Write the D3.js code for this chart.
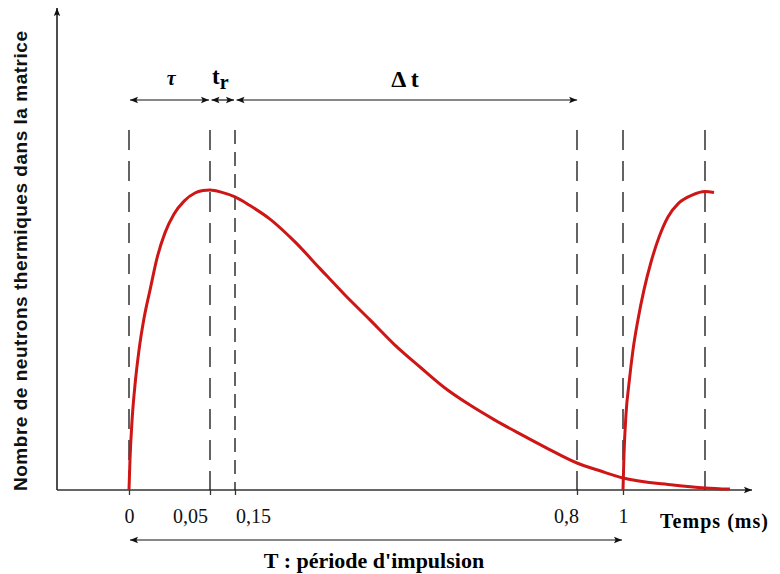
<!DOCTYPE html>
<html>
<head>
<meta charset="utf-8">
<script src="https://cdn.jsdelivr.net/npm/d3@7"></script>
<style>
  body { margin: 0; background: #fff; }
  svg { display: block; }
</style>
</head>
<body>
<svg id="chart" width="780" height="574"></svg>
<script>
// times (ms) where the dashed guides stand
const markTimes = [0, 0.05, 0.15, 0.8, 1, 1.05];
const tickTimes = [0, 0.05, 0.15, 0.8, 1];
const tickLabels = ["0", "0,05", "0,15", "0,8", "1"];

// first pulse: build-up then decay (relative neutron count, peak = 100)
const pulse1 = [
  [0, 0], [0.0006, 10], [0.0019, 23.3], [0.0037, 35], [0.0062, 46.7],
  [0.0093, 57.3], [0.013, 66.7], [0.0173, 77.3], [0.0222, 85.7], [0.0278, 92],
  [0.034, 96.3], [0.0407, 99], [0.0457, 99.8], [0.05, 100], [0.098, 99.2],
  [0.15, 97.7], [0.1785, 94.8], [0.2165, 90.3], [0.264, 82.7], [0.3116, 73.8],
  [0.359, 65], [0.4066, 56.7], [0.454, 48.3], [0.5016, 41], [0.549, 34],
  [0.5966, 28.3], [0.644, 23.3], [0.6917, 18.7], [0.739, 14.3], [0.8, 9],
  [0.9, 6.4], [1.0, 4], [1.0305, 1.7], [1.05, 0.7], [1.0652, 0.3]
];
// second pulse starting at T = 1 ms
const pulse2 = [
  [1.0, 0], [1.0006, 11.7], [1.0018, 25], [1.0037, 35.7], [1.0061, 46.7],
  [1.0091, 56.7], [1.0128, 66.7], [1.0171, 76], [1.022, 84.3], [1.0274, 91],
  [1.0341, 95.7], [1.0421, 98.3], [1.05, 99.5], [1.0555, 99.2]
];

// interval annotations above the curve
const spanStarts = [0, 0.05, 0.15];
const spanEnds = [0.05, 0.15, 0.805];

const svg = d3.select("#chart");
const red = "#cf1616";
const serif = "Liberation Serif, Times New Roman, serif";

// schematic, piecewise time axis
const x = d3.scaleLinear()
  .domain(markTimes)
  .range([129, 210, 235, 577, 623, 705]);
const y = d3.scaleLinear().domain([0, 100]).range([490, 190]);

const defs = svg.append("defs");
defs.append("marker")
  .attr("id", "arr")
  .attr("viewBox", "0 0 10 10")
  .attr("refX", 10).attr("refY", 5)
  .attr("markerWidth", 8).attr("markerHeight", 8)
  .attr("markerUnits", "userSpaceOnUse")
  .attr("orient", "auto-start-reverse")
  .append("path").attr("d", "M0,1 L10,5 L0,9 L2,5 Z").attr("fill", "#111");

// axes
const xAxis = d3.axisBottom(x)
  .tickValues(tickTimes)
  .tickSize(5)
  .tickFormat((d, i) => tickLabels[i]);
const gx = svg.append("g").attr("transform", `translate(0,${y(0)})`).call(xAxis);
gx.select(".domain").remove();
gx.selectAll(".tick line").attr("stroke", "#333").attr("stroke-width", 1.3);
gx.selectAll(".tick text")
  .attr("font-family", serif)
  .attr("font-size", 20)
  .attr("fill", "#111")
  .attr("y", 19)
  .attr("dy", "0.71em")
  .attr("dx", (d, i) => i === 1 ? -20 : i === 2 ? 18 : i === 3 ? -11 : 0);

svg.append("line")
  .attr("x1", 57).attr("y1", y(0)).attr("x2", 752).attr("y2", y(0))
  .attr("stroke", "#333").attr("stroke-width", 1.6)
  .attr("marker-end", "url(#arr)");
svg.append("line")
  .attr("x1", 57).attr("y1", y(0)).attr("x2", 57).attr("y2", 8)
  .attr("stroke", "#222").attr("stroke-width", 1.6)
  .attr("marker-end", "url(#arr)");

// dashed guides
svg.append("g").selectAll("line")
  .data(markTimes)
  .join("line")
  .attr("x1", d => x(d)).attr("x2", d => x(d))
  .attr("y1", 130).attr("y2", y(0))
  .attr("stroke", "#111").attr("stroke-width", 1.3)
  .attr("stroke-dasharray", (d, i) => i === 2 ? "14,8" : "20,11");

// curves
const line = d3.line()
  .x(d => x(d[0])).y(d => y(d[1]))
  .curve(d3.curveMonotoneX);
[pulse1, pulse2].forEach(p => {
  svg.append("path")
    .datum(p)
    .attr("d", line)
    .attr("fill", "none")
    .attr("stroke", red)
    .attr("stroke-width", 3)
    .attr("stroke-linejoin", "round");
});

// interval arrows on top
const gap = [1, 1.5, 1.5];
svg.append("g").selectAll("line")
  .data(spanStarts)
  .join("line")
  .attr("x1", (d, i) => x(d) + gap[i])
  .attr("x2", (d, i) => x(spanEnds[i]) - 1)
  .attr("y1", 100).attr("y2", 100)
  .attr("stroke", "#111").attr("stroke-width", 1.2)
  .attr("marker-start", "url(#arr)")
  .attr("marker-end", "url(#arr)");

svg.append("text")
  .attr("x", x(0.026)).attr("y", 85)
  .attr("text-anchor", "middle")
  .attr("font-family", serif).attr("font-style", "italic").attr("font-weight", "bold")
  .attr("font-size", 20).text("τ");
const tr = svg.append("text")
  .attr("x", 212).attr("y", 84)
  .attr("font-family", serif).attr("font-weight", "bold").attr("font-size", 23);
tr.append("tspan").text("t");
tr.append("tspan").attr("dy", 5).attr("font-size", 20).text("r");
svg.append("text")
  .attr("x", 405).attr("y", 87)
  .attr("text-anchor", "middle")
  .attr("font-family", serif).attr("font-weight", "bold")
  .attr("font-size", 24).text("Δ t");

// period arrow
svg.append("line")
  .attr("x1", x(0) + 1).attr("x2", x(1) - 1)
  .attr("y1", 540).attr("y2", 540)
  .attr("stroke", "#111").attr("stroke-width", 1.2)
  .attr("marker-start", "url(#arr)")
  .attr("marker-end", "url(#arr)");
svg.append("text")
  .attr("x", 374).attr("y", 568)
  .attr("text-anchor", "middle")
  .attr("font-family", serif).attr("font-weight", "bold")
  .attr("font-size", 22).text("T : période d'impulsion");

svg.append("text")
  .attr("x", 660).attr("y", 528)
  .attr("font-family", serif).attr("font-weight", "bold")
  .attr("font-size", 20).attr("textLength", 108)
  .text("Temps (ms)");

svg.append("text")
  .attr("transform", "translate(27,261) rotate(-90)")
  .attr("text-anchor", "middle")
  .attr("font-family", "Liberation Sans, Arial, sans-serif")
  .attr("font-weight", "bold")
  .attr("font-size", 19)
  .attr("textLength", 460)
  .attr("fill", "#111")
  .text("Nombre de neutrons thermiques dans la matrice");
</script>
</body>
</html>
